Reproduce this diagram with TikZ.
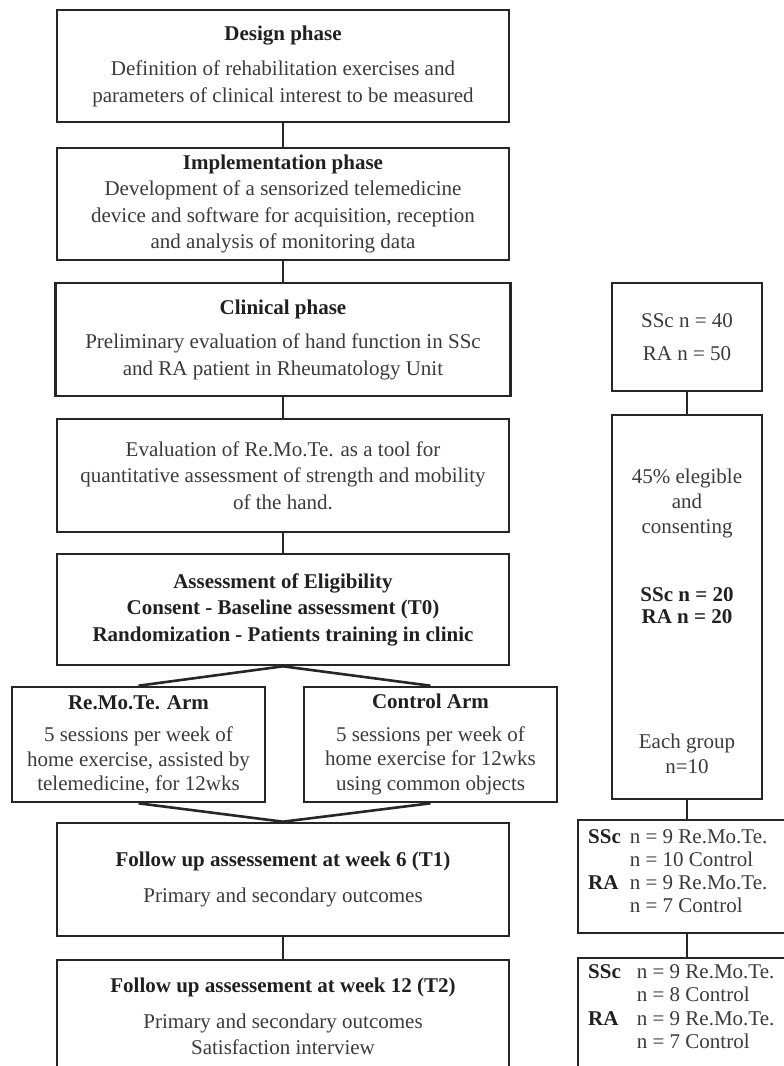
\documentclass[tikz,border=0pt]{standalone}
\usepackage{fontspec}
\setmainfont{Liberation Serif}
\definecolor{linec}{HTML}{262626}
\definecolor{txt}{HTML}{3A3A3A}
\definecolor{ttlc}{HTML}{202020}
\newcommand\hd[1]{{\bfseries\color{ttlc}#1}}
\begin{document}
\begin{tikzpicture}[x=1pt,y=-1pt,
  box/.style={draw=linec, line width=2.6pt, inner sep=0pt, align=center, text=txt,
              font=\fontsize{21}{26.5}\selectfont},
  lbl/.style={inner sep=0pt, align=center, text=txt, font=\fontsize{21}{25}\selectfont},
  conn/.style={draw=linec, line width=2.6pt}]
\useasboundingbox (0,0) rectangle (784,1066);
\clip (0,0) rectangle (784,1066);

% left column
\node[box, minimum width=452pt, minimum height=112pt] (A) at (283,66)
  {\hd{Design phase}\\[9pt] Definition of rehabilitation exercises and\\ parameters of clinical interest to be measured};
\node[box, minimum width=452pt, minimum height=112pt] (B) at (283,204)
  {\hd{Implementation phase}\\ Development of a sensorized telemedicine\\ device and software for acquisition, reception\\ and analysis of monitoring data};
\node[box, minimum width=455pt, minimum height=113pt] (C) at (283,339.5)
  {\hd{Clinical phase}\\[8pt] Preliminary evaluation of hand function in SSc\\ and RA patient in Rheumatology Unit};
\node[box, minimum width=452pt, minimum height=113pt] (D) at (283,475.5)
  {Evaluation of Re.Mo.Te. as a tool for\\ quantitative assessment of strength and mobility\\ of the hand.};
\node[box, minimum width=452pt, minimum height=111pt] (E) at (283,609.5)
  {\hd{Assessment of Eligibility}\\ \hd{Consent - Baseline assessment (T0)}\\ \hd{Randomization - Patients training in clinic}};
\node[box, minimum width=253pt, minimum height=115pt, font=\fontsize{21}{24.5}\selectfont] (F) at (138.5,744.5)
  {\hd{Re.Mo.Te. Arm}\\[8pt] 5 sessions per week of\\ home exercise, assisted by\\ telemedicine, for 12wks};
\node[box, minimum width=253pt, minimum height=115pt, font=\fontsize{21}{24.5}\selectfont] (G) at (430.5,744.5)
  {\hd{Control Arm}\\[8pt] 5 sessions per week of\\ home exercise for 12wks\\ using common objects};
\node[box, minimum width=452pt, minimum height=113pt] (H) at (283,879.5)
  {\hd{Follow up assessement at week 6 (T1)}\\[9pt] Primary and secondary outcomes};
\node[box, minimum width=452pt, minimum height=113pt] (I) at (283,1016.5)
  {\hd{Follow up assessement at week 12 (T2)}\\[9pt] Primary and secondary outcomes\\ Satisfaction interview};

% right column
\node[box, minimum width=150pt, minimum height=108pt] (R1) at (687,337)
  {SSc n = 40\\[7pt] RA n = 50};
\node[box, minimum width=150pt, minimum height=384pt] (R2) at (687,607) {};
\node[lbl] (R2a) at (687,503) {45\% elegible\\ and\\ consenting};
\node[lbl, font=\fontsize{21}{22}\selectfont\bfseries, text=ttlc] (R2b) at (687,606) {SSc n = 20\\ RA n = 20};
\node[lbl] (R2c) at (687,754) {Each group\\ n=10};
\node[box, minimum width=212pt, minimum height=113pt] (R3) at (684,876.5) {};
\node[lbl, anchor=west, font=\fontsize{21}{23}\selectfont] (R3t) at (588,873.5)
  {\begin{tabular}{@{}l@{\hspace{9pt}}l@{}}
   \hd{SSc} & n = 9 Re.Mo.Te.\\
            & n = 10 Control\\
   \hd{RA}  & n = 9 Re.Mo.Te.\\
            & n = 7 Control
   \end{tabular}};
\node[box, minimum width=212pt, minimum height=113pt] (R4) at (684,1014.5) {};
\node[lbl, anchor=west, font=\fontsize{21}{23.5}\selectfont] (R4t) at (588,1009)
  {\begin{tabular}{@{}l@{\hspace{16pt}}l@{}}
   \hd{SSc} & n = 9 Re.Mo.Te.\\
            & n = 8 Control\\
   \hd{RA}  & n = 9 Re.Mo.Te.\\
            & n = 7 Control
   \end{tabular}};

% connectors
\draw[conn] (A) -- (B);
\draw[conn] (B) -- (C);
\draw[conn] (C) -- (D);
\draw[conn] (D) -- (E);
\draw[conn] (E.south) -- (F.north);
\draw[conn] (E.south) -- (G.north);
\draw[conn] (F.south) -- (H.north);
\draw[conn] (G.south) -- (H.north);
\draw[conn] (H) -- (I);
\draw[conn] (R1) -- (R2);
\draw[conn] (R2.south) -- (R2.south |- R3.north);
\draw[conn] (R2.south |- R3.south) -- (R2.south |- R4.north);
\end{tikzpicture}
\end{document}
